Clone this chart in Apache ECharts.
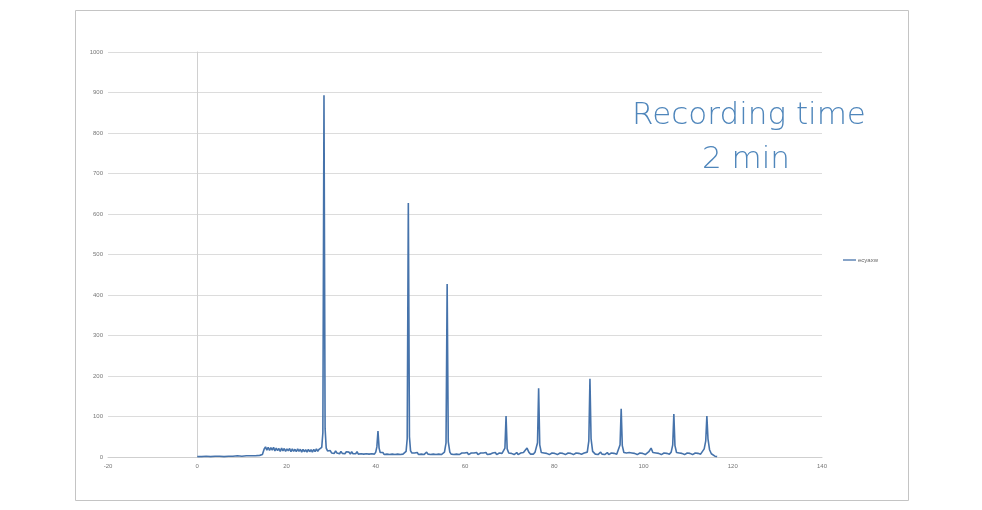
<!DOCTYPE html>
<html>
<head>
<meta charset="utf-8">
<script src="https://cdn.jsdelivr.net/npm/echarts@6/dist/echarts.min.js"></script>
<style>html,body{margin:0;padding:0;background:#fff}#c{width:982px;height:510px}</style>
</head>
<body>
<div id="c"></div>
<script>
const seriesName = 'ecyaxw';
const xTicks = [-20, 0, 20, 40, 60, 80, 100, 120, 140];
const yTicks = [0, 100, 200, 300, 400, 500, 600, 700, 800, 900, 1000];
const annotation = ['Recording time', '2 min'];

const xs = [
0,1,2,3,4,5,6,7,8,9,10,11,12,13,14,14.6,
15.0,15.3,15.6,15.9,16.2,16.5,16.8,17.1,17.4,17.7,18.0,18.3,18.6,18.9,19.2,19.5,19.8,20.1,20.4,20.7,
21.0,21.3,21.6,21.9,22.2,22.5,22.8,23.1,23.4,23.7,24.0,24.3,24.6,24.9,25.2,25.5,25.8,26.1,26.4,26.7,
27.0,27.3,27.6,27.9,28.15,28.4,28.65,28.9,
29.2,29.5,29.8,30.1,30.4,30.7,31.0,31.3,31.6,31.9,32.2,32.5,32.8,33.1,33.4,33.7,34.0,34.3,34.6,34.9,
35.2,35.5,35.8,36.1,36.4,36.7,37.0,37.3,37.6,37.9,38.2,38.5,38.8,39.1,39.4,39.7,40.0,40.25,40.5,40.75,
41.0,41.3,41.6,41.9,42.2,42.5,42.8,43.1,43.4,43.7,44.0,44.3,44.6,44.9,45.2,45.5,45.8,46.1,46.4,46.8,
47.05,47.3,47.55,47.8,48.1,48.4,48.7,49.0,49.3,49.6,49.9,50.2,50.5,50.8,51.1,51.4,51.7,52.0,52.3,52.6,
52.9,53.2,53.5,53.8,54.1,54.4,54.7,55.0,55.4,55.75,56.0,56.25,56.6,56.9,57.2,57.5,57.8,58.1,58.4,58.7,
59.0,59.3,59.6,59.9,60.2,60.5,60.8,61.1,61.4,61.7,62.0,62.3,62.6,62.9,63.2,63.5,63.8,64.1,64.4,64.7,
65.0,65.3,65.6,65.9,66.2,66.5,66.8,67.1,67.4,67.7,68.0,68.3,68.6,68.95,69.2,69.45,69.8,70.1,70.4,70.7,
71.0,71.3,71.6,71.9,72.2,72.5,72.8,73.1,73.5,73.9,74.3,74.7,75.0,75.3,75.7,76.25,76.5,76.75,77.1,77.4,
77.7,78.0,78.3,78.6,78.9,79.2,79.5,79.8,80.1,80.4,80.7,81.0,81.3,81.6,81.9,82.2,82.5,82.8,83.1,83.4,
83.7,84.0,84.3,84.6,84.9,85.2,85.5,85.8,86.1,86.4,86.7,87.0,87.4,87.75,88.0,88.25,88.6,88.9,89.2,89.5,
89.8,90.1,90.4,90.7,91.0,91.3,91.6,91.9,92.2,92.5,92.8,93.1,93.4,93.7,94.0,94.4,94.75,95.0,95.25,95.6,
95.9,96.2,96.5,96.8,97.1,97.4,97.7,98.0,98.3,98.6,98.9,99.2,99.5,99.8,100.1,100.4,100.8,101.2,101.7,102.1,
102.5,102.8,103.1,103.4,103.7,104.0,104.3,104.6,104.9,105.2,105.5,105.8,106.2,106.55,106.8,107.05,107.4,107.7,108.0,108.3,
108.6,108.9,109.2,109.5,109.8,110.1,110.4,110.7,111.0,111.3,111.6,111.9,112.2,112.5,112.8,113.2,113.6,113.95,114.2,114.45,
114.8,115.2,115.6,116.0,116.5
];
const ys = [
1,1,2,1,2,2,1,2,2,3,2,3,3,3,4,6,
20,25,17,24,16,23,17,24,15,22,16,21,14,22,15,21,14,20,15,21,
13,20,14,19,13,20,14,19,12,19,13,18,12,19,13,18,12,19,13,20,
14,19,15,24,60,893,70,22,
15,11,16,10,14,9,15,10,13,8,14,9,13,8,13,9,12,7,13,8,
12,8,13,7,11,8,12,7,11,8,12,7,11,8,11,7,12,25,64,22,
11,7,11,6,10,7,11,6,10,7,11,6,10,7,11,6,10,7,11,14,
45,627,50,15,10,6,10,7,11,6,10,7,11,6,10,12,7,10,6,10,
7,11,6,10,7,11,6,10,12,35,427,38,12,7,10,6,10,7,11,6,
7,10,6,10,7,11,6,9,10,6,10,7,11,6,9,10,6,10,7,11,
6,10,7,6,10,7,11,6,9,10,6,9,11,22,101,20,10,6,9,10,
6,9,11,6,9,10,7,11,14,22,12,7,10,7,12,35,170,30,11,7,
10,6,9,10,6,9,10,6,9,10,6,9,10,6,9,11,6,9,10,6,
9,10,6,9,10,6,9,10,7,6,10,7,12,40,193,45,14,10,7,11,
6,10,12,7,10,6,9,11,6,9,10,6,9,10,7,11,30,119,28,11,
7,10,6,11,7,10,6,9,10,6,9,10,6,9,10,6,10,13,22,11,
7,10,6,9,10,6,9,10,6,9,10,7,12,30,106,28,11,7,10,6,
9,10,6,9,10,6,9,10,6,9,10,6,9,10,7,11,20,40,101,45,
18,8,4,2,1
];

const data = xs.map((x, i) => [x, ys[i]]);
const chart = echarts.init(document.getElementById('c'), null, {renderer: 'canvas'});
const lineColor = '#4673ab';
chart.setOption({
  animation: false,
  backgroundColor: '#ffffff',
  grid: {left: 108, right: 160, top: 52, bottom: 53, containLabel: false},
  legend: {
    data: [seriesName], left: 838, top: 252, orient: 'vertical',
    itemWidth: 13, itemHeight: 6, itemGap: 2,
    textStyle: {fontSize: 6, color: '#666', padding: [0, 0, 0, -3]},
    icon: 'path://M0,2.5L10,2.5L10,3.5L0,3.5Z'
  },
  xAxis: {
    type: 'value', min: xTicks[0], max: xTicks[xTicks.length - 1], interval: 20,
    axisLine: {show: true, onZero: false, lineStyle: {color: '#cfcfcf', width: 1}},
    axisTick: {show: false},
    splitLine: {show: false},
    axisLabel: {fontSize: 6, color: '#777', margin: 6, fontFamily: 'Liberation Sans',
      formatter: v => String(v)}
  },
  yAxis: {
    type: 'value', min: yTicks[0], max: yTicks[yTicks.length - 1], interval: 100,
    axisLine: {show: true, onZero: true, lineStyle: {color: '#d0d0d0', width: 1}},
    axisTick: {show: false},
    splitLine: {show: true, lineStyle: {color: '#dcdcdc', width: 1}},
    axisLabel: {fontSize: 6, color: '#777', margin: 5, fontFamily: 'Liberation Sans',
      formatter: v => String(v)}
  },
  series: [{
    name: seriesName, type: 'line', data: data, showSymbol: false, symbol: 'none',
    lineStyle: {color: lineColor, width: 1.6}, itemStyle: {color: lineColor},
    z: 3
  }],
  graphic: [
    {type: 'rect', shape: {x: 75.5, y: 10.5, width: 833, height: 490},
     style: {fill: 'none', stroke: '#c4c4c4', lineWidth: 1}, silent: true, z: 0},
    {type: 'text', x: 749, y: 131, style: {text: annotation[0], fill: '#4f86bb',
      font: '200 31px "DejaVu Sans"', textAlign: 'center', textVerticalAlign: 'bottom'}, z: 10},
    {type: 'text', x: 746, y: 175, style: {text: annotation[1], fill: '#4f86bb',
      font: '200 31px "DejaVu Sans"', textAlign: 'center', textVerticalAlign: 'bottom'}, z: 10}
  ]
});
</script>
</body>
</html>
